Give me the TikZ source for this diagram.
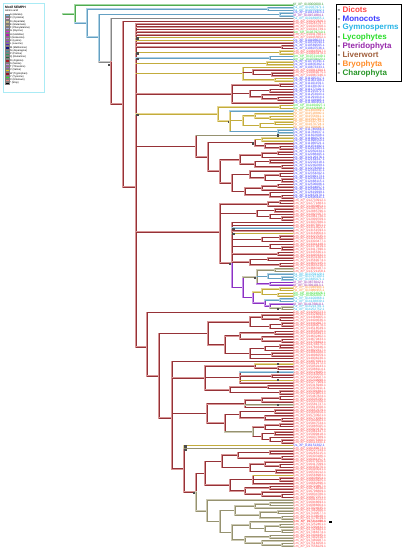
\documentclass[tikz,border=0pt]{standalone}
\usepackage{fontspec}
\setmainfont{Liberation Sans}
\definecolor{kR}{RGB}{150,50,55}
\definecolor{kRl}{RGB}{215,150,150}
\definecolor{kY}{RGB}{195,172,60}
\definecolor{kYl}{RGB}{230,215,150}
\definecolor{kK}{RGB}{150,146,112}
\definecolor{kKl}{RGB}{205,202,180}
\definecolor{kC}{RGB}{100,160,195}
\definecolor{kCl}{RGB}{175,210,228}
\definecolor{kP}{RGB}{140,50,195}
\definecolor{kPl}{RGB}{200,150,232}
\definecolor{kG}{RGB}{80,170,80}
\definecolor{kGl}{RGB}{165,218,165}
\definecolor{kA}{RGB}{135,135,135}
\definecolor{kAl}{RGB}{200,200,200}
\definecolor{cDi}{RGB}{255,70,70}
\definecolor{cMo}{RGB}{60,60,255}
\definecolor{cGy}{RGB}{40,180,230}
\definecolor{cLy}{RGB}{40,220,40}
\definecolor{cPt}{RGB}{150,40,170}
\definecolor{cLi}{RGB}{160,95,60}
\definecolor{cBr}{RGB}{255,140,40}
\definecolor{cCh}{RGB}{40,150,40}
\definecolor{legbox}{RGB}{170,235,245}
\definecolor{aa1}{RGB}{120,190,240}
\definecolor{aa2}{RGB}{240,170,230}
\definecolor{aa3}{RGB}{200,190,140}
\definecolor{aa4}{RGB}{190,180,130}
\definecolor{aa5}{RGB}{170,170,230}
\definecolor{aa6}{RGB}{230,30,230}
\definecolor{aa7}{RGB}{180,30,180}
\definecolor{aa8}{RGB}{200,100,220}
\definecolor{aa9}{RGB}{150,60,220}
\definecolor{aa10}{RGB}{90,40,200}
\definecolor{aa11}{RGB}{20,20,130}
\definecolor{aa12}{RGB}{60,150,160}
\definecolor{aa13}{RGB}{40,160,100}
\definecolor{aa14}{RGB}{30,110,60}
\definecolor{aa15}{RGB}{170,30,40}
\definecolor{aa16}{RGB}{200,140,230}
\definecolor{aa17}{RGB}{170,100,200}
\definecolor{aa18}{RGB}{230,200,20}
\definecolor{aa19}{RGB}{150,20,40}
\definecolor{aa20}{RGB}{40,230,40}
\definecolor{aa21}{RGB}{230,140,130}
\definecolor{aa22}{RGB}{0,0,0}
\tikzset{
 twotone/.style 2 args={draw=#2,line width=1.6pt,line cap=rect,postaction={draw=#1,line width=0.75pt}},
 bR/.style={twotone={kR}{kRl}},
 bY/.style={twotone={kY}{kYl}},
 bK/.style={twotone={kK}{kKl}},
 bC/.style={twotone={kC}{kCl}},
 bP/.style={twotone={kP}{kPl}},
 bG/.style={twotone={kG}{kGl}},
 bA/.style={twotone={kA}{kAl}},
 lab/.style={anchor=west,inner sep=0pt,font=\fontsize{3.3}{3.5}\selectfont},
 mkr/.style={fill=black!70,rectangle,minimum size=2.2pt,inner sep=0pt},
 legtxt/.style={anchor=west,inner sep=0pt,font=\fontsize{8}{9}\selectfont\bfseries},
 aatxt/.style={anchor=west,inner sep=0pt,font=\fontsize{2.5}{2.7}\selectfont},
 aasw/.style={draw=black!50,line width=0.2pt,minimum width=3.4pt,minimum height=2.3pt,inner sep=0pt},
}
\def\preDi{Gm}\def\preMo{Os}\def\preGy{Pa}\def\preLy{Sm}
\def\prePt{Af}\def\preLi{Mp}\def\preBr{Pp}\def\preCh{Kf}
\newcount\mkcnt
\newcommand\tp[3]{\draw[#1] (#2,#3) -- (lab#3.west);}
\newcommand\nd[4]{\draw[#1] (#2,#3) -- (#2,#4);}
\newcommand\br[4]{\draw[#1] (#2,#4) -- (#3,#4);}
\newcommand\chb[4]{\br{#1}{#2}{#3}{#4+0.5}\nd{#1}{#3}{#4}{#4+1}\tp{#1}{#3}{#4}\edef\chB{\the\numexpr#4+1\relax}\tp{#1}{#3}{\chB}}
\newcommand\mk[2]{\global\advance\mkcnt by 1 \node[mkr] (mk\the\mkcnt) at (#1,#2) {};}
\newcommand\labs[3]{\foreach \i in {#1,...,#2}{\node[lab,text=c#3] (lab\i) at (293,\i) {\csname pre#3\endcsname\_XP\_0\the\numexpr 10000000+\i*37971\relax.1};}}
\begin{document}
\begin{tikzpicture}[x=1pt,y=1pt]
\useasboundingbox (0,0) rectangle (402,-550);
% ---------- left legend
\node[draw=legbox,line width=0.6pt,anchor=north west,minimum width=41pt,minimum height=89pt,inner sep=0pt] (aabox) at (2.5,-2.5) {};
\node[anchor=west,inner sep=0pt,font=\fontsize{3.3}{3.5}\selectfont\bfseries] (aat) at (5,-7) {Motif SEMPH};
\node[anchor=west,inner sep=0pt,font=\fontsize{2.6}{2.8}\selectfont] (aas) at (5,-10.6) {Amino acid};
\foreach \t [count=\j] in {A (Alanine),C (Cysteine),D (Aspartate),E (Glutamate),F (Phenylalanine),G (Glycine),H (Histidine),I (Isoleucine),K (Lysine),L (Leucine),M (Methionine),N (Asparagine),P (Proline),Q (Glutamine),R (Arginine),S (Serine),T (Threonine),V (Valine),W (Tryptophan),Y (Tyrosine),X (Unknown),* (Stop)}{
  \node[aasw,fill=aa\j] (sw\j) at (7,{-15-3.25*(\j-1)}) {};
  \node[aatxt] (aa\j) at (10,{-15-3.25*(\j-1)}) {\t};
}
% ---------- right legend
\node[draw=black,line width=1.2pt,anchor=north west,minimum width=65pt,minimum height=77pt,inner sep=0pt] (lgbox) at (335.5,-4) {};
\foreach \t/\c [count=\j from 0] in {Dicots/cDi,Monocots/cMo,Gymnosperms/cGy,Lycophytes/cLy,Pteridophyta/cPt,Liverwort/cLi,Bryophyta/cBr,Charophyta/cCh}{
  \node[legtxt,text=\c] (lg\j) at (337.5,{-10-9*\j}) {\textcolor{black!80}{-} \t};
}
% ---------- tree
\begin{scope}[yshift=-5pt,y=-2.72pt]
\labs{0}{0}{Ch}
\labs{1}{2}{Gy}
\labs{3}{3}{Mo}
\labs{4}{4}{Pt}
\labs{5}{5}{Gy}
\labs{6}{9}{Di}
\labs{10}{10}{Ly}
\labs{11}{12}{Di}
\labs{13}{16}{Mo}
\labs{17}{18}{Di}
\labs{19}{20}{Ly}
\labs{21}{23}{Mo}
\labs{24}{26}{Di}
\labs{27}{36}{Mo}
\labs{37}{38}{Ly}
\labs{39}{45}{Br}
\labs{46}{71}{Mo}
\labs{72}{98}{Di}
\labs{99}{101}{Gy}
\labs{102}{103}{Pt}
\labs{104}{105}{Br}
\labs{106}{107}{Ly}
\labs{108}{109}{Gy}
\labs{110}{110}{Pt}
\labs{111}{112}{Gy}
\labs{113}{161}{Di}
\labs{162}{162}{Mo}
\labs{163}{189}{Di}
\node[lab,text=cDi,font=\fontsize{3.3}{3.5}\selectfont\bfseries] (lab190) at (293,190) {Gm\_XP\_017214490.1};
\node[fill=black,minimum size=2.6pt,inner sep=0pt,anchor=west] (blk) at ([xshift=3pt]lab190.east) {};
\labs{191}{199}{Di}
% root and outgroups
\br{bG}{63}{75}{3.3}
\nd{bG}{75}{0}{6.6}
\tp{bG}{75}{0}
\br{bC}{75}{87}{6.6}
\nd{bC}{87}{1.5}{11.8}
\chb{bC}{87}{268}{1}
\br{bC}{87}{99}{11.8}
\nd{bC}{99}{3.5}{21}
\chb{bC}{99}{280}{3}
\br{bA}{99}{111}{21}\mk{109}{22}
\nd{bA}{111}{5}{21}
\nd{bR}{111}{21}{36.4}
\tp{bA}{111}{5}
\br{bR}{111}{123}{36.4}
\nd{bR}{123}{6}{66.9}
\tp{bR}{123}{6}
\br{bR}{123}{136}{66.9}
\nd{bR}{136}{7}{125.7}
% spine children
\foreach \k in {7,...,11}{\tp{bR}{136}{\k}}
\tp{bY}{136}{12}\tp{bY}{136}{13}\mk{137.5}{12.3}
\tp{bR}{136}{14}
\chb{bR}{136}{282}{15}
\chb{bY}{136}{280}{17}\mk{137.5}{17.8}
\chb{bC}{136}{270}{19}\mk{137.5}{19.8}
\chb{bY}{136}{267}{21}
\br{bY}{136}{243}{25.25}
\nd{bY}{243}{23}{27.5}
\tp{bY}{243}{23}
\br{bR}{243}{253}{24.75}\mk{253}{24.9}
\nd{bR}{253}{24}{25.5}
\tp{bR}{253}{24}
\chb{bR}{253}{272}{25}
\chb{bY}{243}{275}{27}
% monocot clade 29-36
\br{bR}{136}{232}{32.75}
\nd{bR}{232}{29.5}{36}
\chb{bR}{232}{280}{29}
\br{bR}{232}{250}{32.6}
\nd{bR}{250}{31.5}{33.75}
\chb{bR}{250}{270}{31}
\br{bR}{250}{262}{33.75}
\nd{bR}{262}{33}{34.5}
\tp{bR}{262}{33}
\chb{bR}{262}{278}{34}
\tp{bR}{232}{36}
% yellow clade 37-47
\br{bY}{136}{218}{40.1}\mk{137.5}{40.4}
\nd{bY}{218}{37.5}{42.75}
\chb{bY}{218}{280}{37}
\br{bY}{218}{230}{42.75}\mk{229}{43.1}
\nd{bY}{230}{39}{46.5}
\tp{bC}{230}{39}
\br{bY}{230}{243}{42.5}
\nd{bY}{243}{40.75}{44.25}
\br{bY}{243}{255}{40.75}
\nd{bY}{255}{40}{41.5}
\tp{bY}{255}{40}
\chb{bY}{255}{270}{41}
\br{bY}{243}{260}{44.25}
\nd{bY}{260}{43.5}{45}
\chb{bY}{260}{275}{43}
\tp{bY}{260}{45}
\chb{bC}{230}{278}{46}
% monocot clade 48-71
\br{bR}{136}{196}{52}
\nd{bR}{196}{48}{55.9}
\tp{bK}{196}{48}\mk{278}{48}
\br{bR}{196}{208}{55.9}
\nd{bR}{208}{50.6}{61.1}
\br{bR}{208}{255}{50.6}\mk{253}{50.9}
\nd{bR}{255}{49.5}{51.75}
\chb{bY}{255}{262}{49}
\br{bR}{255}{265}{51.75}
\nd{bR}{265}{51}{52.5}
\tp{bR}{265}{51}
\chb{bR}{265}{280}{52}
\br{bR}{208}{220}{61.1}
\nd{bR}{220}{56.9}{65.4}
\br{bR}{220}{240}{56.9}
\nd{bR}{240}{55.25}{58.5}
\br{bR}{240}{262}{55.25}
\nd{bR}{262}{54.5}{56}
\chb{bR}{262}{278}{54}
\tp{bR}{262}{56}
\br{bR}{240}{255}{58.5}
\nd{bR}{255}{57.5}{59.5}
\chb{bR}{255}{270}{57}
\chb{bR}{255}{282}{59}
\br{bR}{220}{232}{65.4}
\nd{bR}{232}{62.25}{68.5}
\br{bR}{232}{250}{62.25}
\nd{bR}{250}{61}{63.5}
\tp{bR}{250}{61}
\br{bR}{250}{265}{63.5}
\nd{bR}{265}{62.5}{64.5}
\chb{bR}{265}{280}{62}
\chb{bR}{265}{282}{64}
\br{bR}{232}{245}{68.5}
\nd{bR}{245}{67.25}{69.75}
\br{bR}{245}{262}{67.25}
\nd{bR}{262}{66.5}{68}
\chb{bR}{262}{278}{66}
\tp{bR}{262}{68}
\br{bR}{245}{270}{69.75}
\nd{bR}{270}{69}{70.5}
\tp{bR}{270}{69}
\chb{bR}{270}{282}{70}
% dicot clade 72-112
\br{bR}{136}{220}{83.5}
\nd{bR}{220}{73.25}{94.9}
\br{bR}{220}{268}{73.25}
\nd{bR}{268}{72.5}{74}
\chb{bR}{268}{280}{72}
\tp{bR}{268}{74}
\br{bR}{220}{257}{76.6}
\nd{bR}{257}{75.5}{77.75}
\chb{bR}{257}{275}{75}
\br{bR}{257}{270}{77.75}
\nd{bR}{270}{77}{78.5}
\tp{bR}{270}{77}
\chb{bR}{270}{282}{78}
\br{bR}{220}{232}{94.9}\mk{230}{95.3}
\nd{bR}{232}{80}{94.9}
\nd{bP}{232}{94.9}{103.8}
\tp{bR}{232}{80}\tp{bR}{232}{81}
\tp{bC}{232}{82}\mk{233.5}{82.3}
\tp{bR}{232}{83}
\tp{bY}{232}{84}\mk{233.5}{84.3}
\br{bR}{232}{262}{86.25}
\nd{bR}{262}{85.5}{87}
\chb{bR}{262}{280}{85}
\tp{bR}{262}{87}
\br{bR}{232}{270}{88.75}
\nd{bR}{270}{88}{89.5}
\tp{bR}{270}{88}
\chb{bR}{270}{282}{89}
\chb{bR}{232}{278}{91}
\br{bR}{232}{250}{94.5}
\nd{bR}{250}{93.5}{95.5}
\chb{bR}{250}{268}{93}
\chb{bR}{250}{280}{95}
\br{bP}{232}{243}{103.8}
\nd{bP}{243}{100}{107.6}
\br{bK}{243}{257}{100}\mk{255}{100.3}
\nd{bK}{257}{97.5}{102.5}
\chb{bK}{257}{275}{97}
\br{bC}{257}{268}{99.75}
\nd{bC}{268}{99}{100.5}
\tp{bC}{268}{99}
\chb{bC}{268}{282}{100}
\chb{bP}{257}{270}{102}
\br{bP}{243}{253}{107.6}\mk{253}{107.9}
\nd{bP}{253}{105.5}{109.6}
\br{bY}{253}{262}{105.5}
\nd{bY}{262}{104.5}{106.5}
\chb{bY}{262}{280}{104}
\chb{bY}{262}{278}{106}
\br{bP}{253}{265}{109.6}
\nd{bP}{265}{108.5}{110.75}
\chb{bC}{265}{280}{108}
\br{bP}{265}{270}{110.75}
\nd{bP}{270}{110}{111.5}
\tp{bP}{270}{110}
\chb{bK}{270}{282}{111}\mk{278}{111.8}
% lower backbone
\br{bR}{136}{147}{125.7}
\nd{bR}{147}{113}{136.4}
\tp{bR}{147}{113}
\br{bR}{147}{159}{136.4}
\nd{bR}{159}{120.7}{151.8}
% C1 114-130
\br{bR}{159}{208}{120.7}
\nd{bR}{208}{116.5}{124.9}
\br{bR}{208}{250}{116.5}
\nd{bR}{250}{114.75}{118.25}
\br{bR}{250}{262}{114.75}
\nd{bR}{262}{114}{115.5}
\tp{bR}{262}{114}
\chb{bR}{262}{280}{115}
\br{bR}{250}{270}{118.25}
\nd{bR}{270}{117.5}{119}
\chb{bR}{270}{282}{117}
\tp{bR}{270}{119}
\br{bR}{208}{225}{124.9}
\nd{bR}{225}{121.6}{128.1}
\br{bR}{225}{240}{121.6}
\nd{bR}{240}{120.5}{122.75}
\chb{bR}{240}{275}{120}
\br{bR}{240}{262}{122.75}
\nd{bR}{262}{122}{123.5}
\tp{bR}{262}{122}
\chb{bR}{262}{282}{123}
\br{bR}{225}{250}{128.1}
\nd{bR}{250}{126.25}{130}
\br{bR}{250}{265}{126.25}
\nd{bR}{265}{125.5}{127}
\chb{bR}{265}{280}{125}
\tp{bR}{265}{127}
\chb{bR}{250}{272}{128}
\tp{bR}{250}{130}
% N9
\br{bR}{159}{172}{151.8}
\nd{bR}{172}{131}{170.5}
\tp{bR}{172}{131}
% C2 132-143
\br{bR}{172}{205}{137.1}
\nd{bR}{205}{132.75}{141.5}
\br{bR}{205}{255}{132.75}
\nd{bR}{255}{132}{133.5}
\tp{bY}{255}{132}\mk{278}{132}
\chb{bR}{255}{278}{133}
\br{bR}{205}{240}{137}
\nd{bR}{240}{135}{139}
\tp{bC}{240}{135}\mk{278}{135}
\chb{bR}{240}{272}{136}
\tp{bY}{240}{138}\mk{278}{138}
\tp{bR}{240}{139}
\br{bR}{205}{230}{141.5}
\nd{bR}{230}{140.5}{142.5}
\chb{bR}{230}{268}{140}
\chb{bR}{230}{280}{142}
% C3 144-161
\br{bR}{172}{207}{150.2}
\nd{bR}{207}{146.6}{153.75}
\br{bR}{207}{245}{146.6}
\nd{bR}{245}{145.25}{148}
\br{bR}{245}{262}{145.25}
\nd{bR}{262}{144.5}{146}
\chb{bR}{262}{280}{144}
\tp{bR}{262}{146}
\tp{bK}{245}{147}\mk{278}{147}
\tp{bR}{245}{148}
\br{bR}{207}{225}{153.75}
\nd{bR}{225}{150.6}{156.9}
\br{bR}{225}{240}{150.6}
\nd{bR}{240}{149.5}{151.75}
\chb{bR}{240}{275}{149}
\br{bR}{240}{265}{151.75}
\nd{bR}{265}{151}{152.5}
\tp{bR}{265}{151}
\chb{bR}{265}{282}{152}
\br{bK}{225}{253}{156.9}\mk{253}{157.2}
\nd{bK}{253}{155.25}{158.6}
\br{bR}{253}{265}{155.25}
\nd{bR}{265}{154.5}{156}
\chb{bR}{265}{280}{154}
\tp{bR}{265}{156}
\br{bR}{253}{262}{158.6}
\nd{bR}{262}{157.5}{159.75}
\chb{bR}{262}{275}{157}
\br{bR}{262}{270}{159.75}
\nd{bR}{270}{159}{160.5}
\tp{bR}{270}{159}
\chb{bR}{270}{282}{160}
% N10
\br{bR}{172}{184}{170.5}
\nd{bY}{184}{162}{163}
\nd{bR}{184}{163}{179.1}
\tp{bY}{184}{162}\mk{185.5}{162.3}
\tp{bK}{184}{163}\mk{185.5}{163.6}
\br{bR}{184}{196}{179.1}\mk{194}{179.5}
\nd{bR}{196}{172.2}{179.1}
\nd{bK}{196}{179.1}{186}
% R 164-181
\br{bR}{196}{205}{172.2}
\nd{bR}{205}{167.8}{176.5}
\br{bR}{205}{222}{167.8}
\nd{bR}{222}{165.5}{170.1}
\br{bR}{222}{238}{165.5}
\nd{bR}{238}{164.5}{166.5}
\chb{bR}{238}{270}{164}
\chb{bR}{238}{282}{166}
\br{bR}{222}{250}{170.1}
\nd{bR}{250}{168.75}{171.5}
\br{bR}{250}{265}{168.75}
\nd{bR}{265}{168}{169.5}
\tp{bR}{265}{168}
\chb{bR}{265}{280}{169}
\chb{bR}{250}{276}{171}
\br{bR}{205}{230}{176.5}
\nd{bR}{230}{174.5}{178.6}
\br{bR}{230}{253}{174.5}\mk{253}{174.8}
\nd{bR}{253}{173}{176}
\tp{bY}{253}{173}
\chb{bR}{253}{280}{174}
\tp{bR}{253}{176}
\br{bR}{230}{245}{178.6}
\nd{bR}{245}{177.5}{179.75}
\chb{bR}{245}{270}{177}
\br{bR}{245}{262}{179.75}
\nd{bR}{262}{179}{180.5}
\tp{bR}{262}{179}
\chb{bR}{262}{282}{180}
% G 182-199
\br{bK}{196}{207}{186}
\nd{bK}{207}{182}{189.9}
\tp{bK}{207}{182}
\br{bK}{207}{220}{189.9}
\nd{bK}{220}{185.9}{193.9}
\br{bK}{220}{235}{185.9}
\nd{bK}{235}{184.25}{187.5}
\br{bK}{235}{255}{184.25}
\nd{bK}{255}{183.5}{185}
\chb{bK}{255}{270}{183}
\tp{bK}{255}{185}
\br{bK}{235}{260}{187.5}
\nd{bK}{260}{186.5}{188.5}
\chb{bK}{260}{278}{186}
\chb{bK}{260}{282}{188}
\br{bK}{220}{232}{193.9}
\nd{bK}{232}{191.25}{196.6}
\br{bK}{232}{250}{191.25}
\nd{bK}{250}{190}{192.5}
\tp{bK}{250}{190}
\br{bK}{250}{265}{192.5}
\nd{bK}{265}{191.5}{193.5}
\chb{bK}{265}{280}{191}
\chb{bK}{265}{282}{193}
\br{bK}{232}{245}{196.6}
\nd{bK}{245}{195.5}{197.75}
\chb{bK}{245}{270}{195}
\br{bK}{245}{262}{197.75}
\nd{bK}{262}{197}{198.5}
\tp{bK}{262}{197}
\chb{bK}{262}{282}{198}
\end{scope}
\end{tikzpicture}
\end{document}
